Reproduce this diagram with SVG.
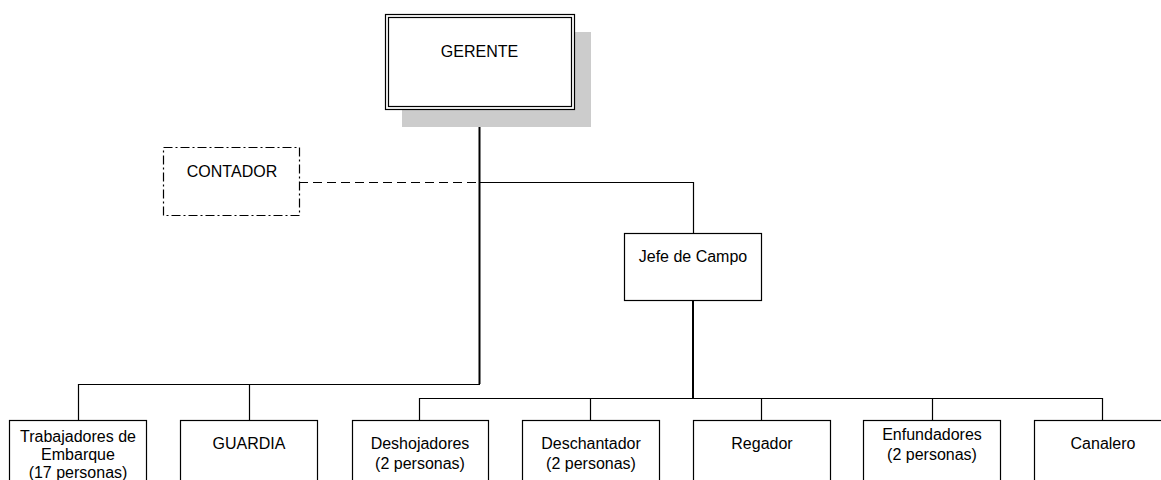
<svg xmlns="http://www.w3.org/2000/svg" width="1161" height="480" viewBox="0 0 1161 480">
<style>
  .box{fill:#fff;stroke:#000;stroke-width:1.2}
  .t{font-family:"Liberation Sans",Arial,sans-serif;font-size:16px;fill:#000;text-anchor:middle}
  .c{fill:none;stroke:#000;stroke-width:1.2}
  .thick{fill:none;stroke:#000;stroke-width:2}
</style>
<rect width="1161" height="480" fill="#fff"/>
<g id="connectors">
  <line class="thick" x1="479.5" y1="109" x2="479.5" y2="384"/>
  <polyline class="c" points="78.5,420 78.5,384.5 480,384.5"/>
  <line class="c" x1="249.5" y1="384" x2="249.5" y2="420"/>
  <polyline class="c" points="479,182.5 693.5,182.5 693.5,233"/>
  <line class="c" x1="299" y1="182.5" x2="479" y2="182.5" stroke-dasharray="9,5"/>
  <line class="thick" x1="693" y1="300" x2="693" y2="398"/>
  <line class="c" x1="419" y1="398.5" x2="1102" y2="398.5"/>
  <line class="c" x1="419.5" y1="398" x2="419.5" y2="420"/>
  <line class="c" x1="590.5" y1="398" x2="590.5" y2="420"/>
  <line class="c" x1="761.5" y1="398" x2="761.5" y2="420"/>
  <line class="c" x1="932.5" y1="398" x2="932.5" y2="420"/>
  <line class="c" x1="1102.5" y1="398" x2="1102.5" y2="420"/>
</g>
<g id="gerente">
  <rect x="402" y="32" width="189" height="95" fill="#cccccc"/>
  <rect class="box" x="385.5" y="14.5" width="189" height="95"/>
  <rect x="388.5" y="17.5" width="183" height="89" fill="none" stroke="#000" stroke-width="1.2"/>
  <text class="t" x="479.5" y="57">GERENTE</text>
</g>
<g id="contador">
  <rect x="163.5" y="147.5" width="136" height="68" fill="#fff" stroke="#000" stroke-width="1.2" stroke-dasharray="9,3,2,3"/>
  <text class="t" x="232" y="177">CONTADOR</text>
</g>
<g id="jefe">
  <rect class="box" x="624.5" y="233.5" width="137" height="67"/>
  <text class="t" x="693" y="262">Jefe de Campo</text>
</g>
<g id="trabajadores">
  <rect class="box" x="9.5" y="420.5" width="137" height="70"/>
  <text class="t" x="78" y="442">Trabajadores de</text>
  <text class="t" x="78" y="460">Embarque</text>
  <text class="t" x="78" y="478">(17 personas)</text>
</g>
<g id="guardia">
  <rect class="box" x="180.5" y="420.5" width="137" height="70"/>
  <text class="t" x="249" y="449">GUARDIA</text>
</g>
<g id="deshojadores">
  <rect class="box" x="352.5" y="420.5" width="136" height="70"/>
  <text class="t" x="420" y="449">Deshojadores</text>
  <text class="t" x="420" y="469">(2 personas)</text>
</g>
<g id="deschantador">
  <rect class="box" x="522.5" y="420.5" width="137" height="70"/>
  <text class="t" x="591" y="449">Deschantador</text>
  <text class="t" x="591" y="469">(2 personas)</text>
</g>
<g id="regador">
  <rect class="box" x="693.5" y="420.5" width="137" height="70"/>
  <text class="t" x="762" y="449">Regador</text>
</g>
<g id="enfundadores">
  <rect class="box" x="863.5" y="420.5" width="137" height="70"/>
  <text class="t" x="932" y="440">Enfundadores</text>
  <text class="t" x="932" y="460">(2 personas)</text>
</g>
<g id="canalero">
  <rect class="box" x="1034.5" y="420.5" width="137" height="70"/>
  <text class="t" x="1103" y="449">Canalero</text>
</g>
</svg>
